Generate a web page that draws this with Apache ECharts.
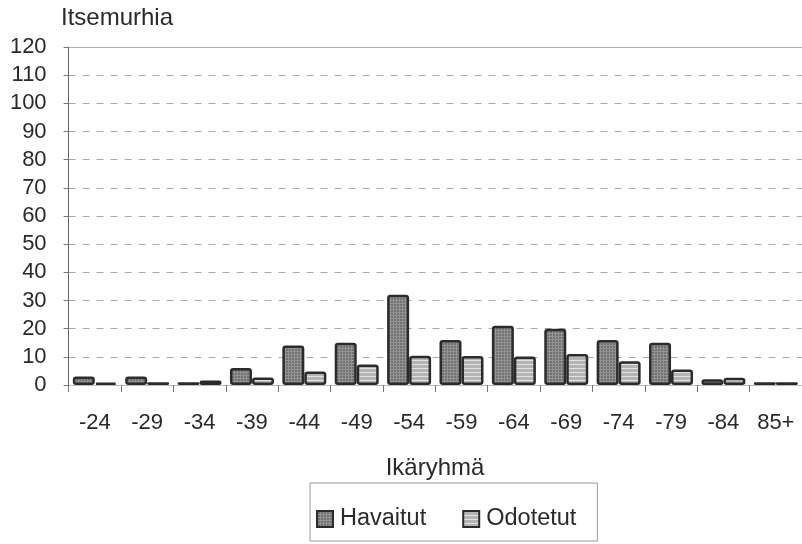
<!DOCTYPE html>
<html>
<head>
<meta charset="utf-8">
<script src="https://cdn.jsdelivr.net/npm/echarts@6/dist/echarts.min.js"></script>
<style>
  html, body { margin: 0; padding: 0; background: #fff; }
  #chart { width: 802px; height: 544px; }
</style>
</head>
<body>
<div id="chart"></div>
<script>
// Age groups and suicide counts: observed vs expected
const ageGroups = ['-24', '-29', '-34', '-39', '-44', '-49', '-54', '-59', '-64', '-69', '-74', '-79', '-84', '85+'];
const observed = [3, 3, 1, 6, 14, 15, 32, 16, 21, 20, 16, 15, 2, 1];
const expected = [0.8, 1, 1.6, 2.7, 4.8, 7.3, 10.4, 10.3, 10.1, 11, 8.4, 5.5, 2.6, 1];
const yTicks = { min: 0, max: 120, step: 10 };

const FONT = 'Liberation Sans, Arial, sans-serif';
const INK = '#2a2a2a';

// Small tiled fills for the two bar series
function makePattern(base, line, size, grid) {
  const c = document.createElement('canvas');
  c.width = size; c.height = size;
  const g = c.getContext('2d');
  g.fillStyle = base;
  g.fillRect(0, 0, size, size);
  g.fillStyle = line;
  g.fillRect(0, 0, size, 1);
  if (grid) g.fillRect(0, 0, 1, size);
  return { image: c, repeat: 'repeat' };
}
const observedFill = makePattern('#727272', '#939393', 3, true);
const expectedFill = makePattern('#b4b4b4', '#e2e2e2', 4, false);

const chart = echarts.init(document.getElementById('chart'), null, { renderer: 'canvas' });

chart.setOption({
  animation: false,
  backgroundColor: '#ffffff',
  textStyle: { fontFamily: FONT },
  title: [
    { text: 'Itsemurhia', left: 61, top: 6, padding: 0,
      textStyle: { fontSize: 24, fontWeight: 'normal', color: INK, fontFamily: FONT } },
    { text: 'Ikäryhmä', left: 435, top: 456, padding: 0, textAlign: 'center',
      textStyle: { fontSize: 24, fontWeight: 'normal', color: INK, fontFamily: FONT } }
  ],
  legend: {
    left: 310, top: 483,
    padding: [24, 21, 10, 6],
    itemGap: 36,
    itemWidth: 16, itemHeight: 16,
    borderColor: '#9a9a9a', borderWidth: 1,
    icon: 'rect',
    textStyle: { fontSize: 23.5, color: INK, fontFamily: FONT, padding: [0, 0, 0, 2] },
    data: ['Havaitut', 'Odotetut']
  },
  grid: { left: 68.6, top: 47, width: 740, height: 338, containLabel: false },
  xAxis: {
    type: 'category',
    data: ageGroups,
    axisLine: { show: true, lineStyle: { color: '#bbbbbb', width: 1 } },
    axisTick: { show: true, length: 7, lineStyle: { color: '#777' } },
    axisLabel: { interval: 0, margin: 27, fontSize: 22, color: INK, fontFamily: FONT },
    splitLine: { show: false }
  },
  yAxis: {
    type: 'value',
    min: yTicks.min, max: yTicks.max, interval: yTicks.step,
    axisLine: { show: true, lineStyle: { color: '#666', width: 1 } },
    axisTick: { show: true, length: 5, lineStyle: { color: '#777' } },
    axisLabel: { margin: 22, fontSize: 22, color: INK, fontFamily: FONT },
    splitLine: { show: true, lineStyle: { color: '#aaaaaa', type: [7, 7], width: 1 } }
  },
  series: [
    {
      name: 'Havaitut', type: 'bar', data: observed,
      barWidth: 22, barGap: '0%',
      itemStyle: { color: observedFill, borderColor: '#2b2b2b', borderWidth: 2.5, borderRadius: 2 },
      markLine: {
        silent: true, symbol: 'none', label: { show: false },
        lineStyle: { color: '#aaaaaa', type: 'solid', width: 1 },
        data: [{ yAxis: yTicks.max }]
      }
    },
    {
      name: 'Odotetut', type: 'bar', data: expected,
      barWidth: 22, barGap: '0%',
      itemStyle: { color: expectedFill, borderColor: '#2b2b2b', borderWidth: 2.5, borderRadius: 2 }
    }
  ]
});
</script>
</body>
</html>
